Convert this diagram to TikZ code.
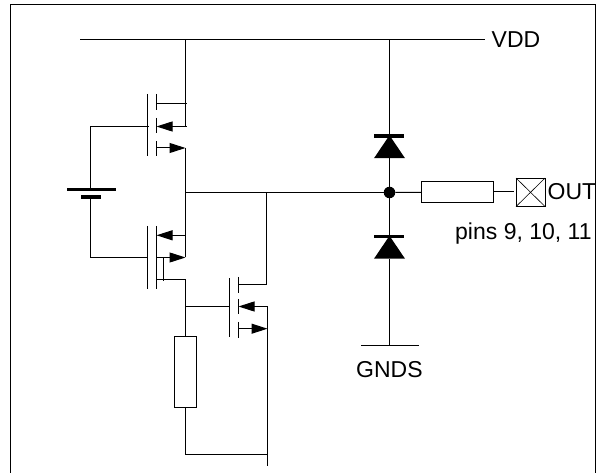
\documentclass[tikz,border=0pt]{standalone}
\usepackage{fontspec}
\setmainfont{Liberation Sans}
\usetikzlibrary{arrows.meta, positioning, shapes.geometric}

\begin{document}
\begin{tikzpicture} [
    x=1pt, y=-1pt,
    node distance=0pt,
    wire/.style={line width=1pt},
    frameline/.style={line width=1.3pt},
    plate/.style={line width=1.1pt},
    arrow/.style={wire, -{Triangle[length=16pt, width=10pt]}},
    resistor/.style={rectangle, draw=black, line width=1pt, fill=white, inner sep=0pt},
    padbox/.style={rectangle, draw=black, line width=0.6pt, inner sep=0pt, minimum width=28.5pt, minimum height=28pt},
    junction/.style={circle, fill=black, inner sep=0pt, minimum size=11.5pt},
    diode/.style={isosceles triangle, isosceles triangle apex angle=68, shape border rotate=90, fill=black, inner sep=0pt, minimum height=23pt, minimum width=30pt},
    label/.style={inner sep=0pt, font=\fontsize{23}{27}\selectfont}
]
\useasboundingbox (0,0) rectangle (598,473);

% Frame, open at the bottom
\draw[frameline] (10.5,473) -- (10.5,4.5) -- (595.5,4.5) -- (595.5,473);

% Layer 1: nodes and junction points
\coordinate (vddL) at (80,39.5);
\coordinate (vddR) at (485,39.5);
\coordinate (vddA) at (185.5,39.5);
\coordinate (vddB) at (389.5,39.5);
\node[label, anchor=base west] (vdd) at (491.5,47.3) {VDD};

\node[junction] (dot) at (389.5,192.5) {};
\coordinate (mid) at (185.5,192.5);
\coordinate (midB) at (266.5,192.5);
\node[diode] (dtop) at (389.5,150) {};
\node[diode] (dbot) at (389.5,250.5) {};
\coordinate (gndL) at (361,345.5);
\coordinate (gndR) at (419,345.5);
\coordinate (gndM) at (389.5,345.5);
\node[label, anchor=base west] (gnds) at (356,377.7) {GNDS};

\node[resistor, minimum width=71.5pt, minimum height=21pt, anchor=west] (rout) at (421.3,192) {};
\node[padbox, anchor=west] (pad) at (516,192.3) {};
\node[label, anchor=base west] (out) at (547.5,200) {OUT};
\node[label, anchor=base west] (pins) at (455,240) {pins 9, 10, 11};

\node[resistor, minimum width=22.5pt, minimum height=71pt, anchor=north] (rbot) at (185.5,336.3) {};
\coordinate (botL) at (185.5,454.5);
\coordinate (botR) at (267.5,454.5);
\coordinate (botE) at (267.5,466);

% Upper transistor
\coordinate (q1g) at (90.5,126.5);
\coordinate (q1d) at (185.5,148);
% Lower transistor
\coordinate (q2g) at (90.5,257.5);
\coordinate (q2s) at (185.5,257.5);
\coordinate (q2b) at (185.5,279.5);
% Side transistor
\coordinate (q3t) at (266.5,284.5);
\coordinate (q3g) at (185.5,306.5);
\coordinate (q3s) at (267.5,306.5);
\coordinate (q3d) at (267.5,328.7);

% Battery
\coordinate (batT) at (90.5,189.5);
\coordinate (batB) at (90.5,197);
\draw[line width=3pt] (67,189.5) -- (116,189.5);
\draw[line width=4pt] (81,197) -- (101,197);

% Layer 2: supply and output wires
\draw[wire] (vddL) -- (vddR);
\draw[wire] (vddB) -- (dtop);
\draw[wire] (dtop) -- (dot);
\draw[wire] (dot) -- (dbot);
\draw[wire] (dbot) -- (gndM);
\draw[wire] (gndL) -- (gndR);
\draw[line width=3.5pt] (374,135.8) -- (404,135.8);
\draw[line width=3.5pt] (374,236.4) -- (404,236.4);
\draw[wire] (mid) -- (dot);
\draw[wire] (dot) -- (rout);
\draw[wire] (rout.east) -- ++(20,0);
\draw[line width=0.6pt] (pad.north west) -- (pad.south east);
\draw[line width=0.6pt] (pad.south west) -- (pad.north east);

% Upper transistor
\draw[plate] (147.5,94) -- (147.5,156);
\foreach \ya/\yb in {94/110, 118/133, 141/156}
    \draw[plate] (156.5,\ya) -- (156.5,\yb);
\draw[wire] (vddA) -- (185.5,126.5);
\draw[wire] (156.5,103.5) -- (187,103.5);
\draw[arrow] (186.5,126.5) -- (156.5,126.5);
\draw[arrow] (156.5,148) -- (q1d);
\draw[wire] (q1d) -- (q2s);
\draw[wire] (batT) -- (q1g) -- (148.5,126.5);
\draw[wire] (batB) -- (q2g) -- (148,257.5);

% Lower transistor
\draw[plate] (147.5,226) -- (147.5,288.7);
\draw[plate] (156.5,226) -- (156.5,288.7);
\draw[arrow] (185.5,235.3) -- (156.5,235.3);
\draw[arrow] (156.5,257.5) -- (q2s);
\draw[wire] (163.5,257.5) -- (163.5,280.7);
\draw[wire] (156.5,279.5) -- (q2b);
\draw[wire] (q2b) -- (rbot);
\draw[wire] (rbot) -- (botL) -- (botR);
\draw[wire] (q3s) -- (botE);

% Side transistor
\draw[plate] (229.5,278.3) -- (229.5,337);
\foreach \ya/\yb in {277/292.7, 299/314, 322/337.7}
    \draw[plate] (238.5,\ya) -- (238.5,\yb);
\draw[wire] (midB) -- (q3t);
\draw[wire] (238.5,284.5) -- (q3t);
\draw[wire] (q3g) -- (229.5,306.5);
\draw[arrow] (q3s) -- (238.5,306.5);
\draw[arrow] (238.5,328.7) -- (q3d);

\end{tikzpicture}
\end{document}
